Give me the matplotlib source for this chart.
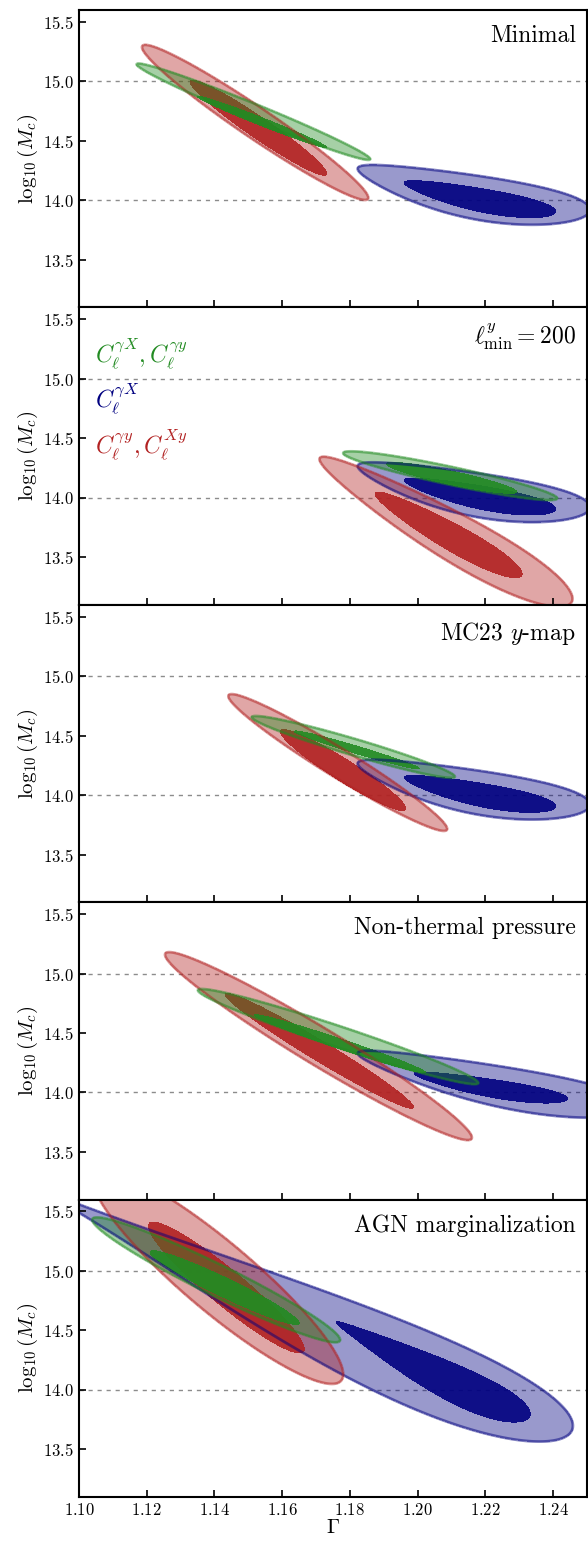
import numpy as np
import matplotlib.pyplot as plt

plt.rcParams['font.family'] = 'serif'
plt.rcParams['font.serif'] = ['cmr10']
plt.rcParams['mathtext.fontset'] = 'cm'
plt.rcParams['axes.formatter.use_mathtext'] = True
plt.rcParams['axes.unicode_minus'] = False

# 1) data: one row per panel
panel_labels = ["Minimal", r"$\ell^{y}_{\rm min} = 200$", r"MC23 $y$-map",
                "Non-thermal pressure", "AGN marginalization"]

# contour rows: Gamma centre, log10 Mc centre, Gamma half-width, log10 Mc half-height, correlation, flare
green_68 = [
    [1.154, 14.66, 0.0190, 0.215, -0.987, 0.0],
    [1.210, 14.167, 0.0192, 0.130, -0.900, 0.0],
    [1.182, 14.38, 0.0185, 0.160, -0.980, 0.0],
    [1.177, 14.41, 0.0253, 0.245, -0.985, 0.0],
    [1.143, 14.86, 0.0220, 0.310, -0.960, 0.0],
]
green_95 = [
    [1.1515, 14.745, 0.0345, 0.405, -0.984, 0.0],
    [1.2096, 14.185, 0.0316, 0.205, -0.927, 0.0],
    [1.181, 14.405, 0.0300, 0.260, -0.961, 0.0],
    [1.1765, 14.47, 0.0414, 0.400, -0.973, 0.0],
    [1.1405, 14.925, 0.0366, 0.525, -0.961, 0.0],
]
blue_68 = [
    [1.2177, 14.015, 0.0223, 0.155, -0.78, 0.3],
    [1.2177, 14.015, 0.0223, 0.155, -0.78, 0.3],
    [1.2177, 14.015, 0.0223, 0.155, -0.78, 0.3],
    [1.221, 14.045, 0.0226, 0.130, -0.82, 0.3],
    [1.204, 14.16, 0.0285, 0.420, -0.930, 0.6],
]
blue_95 = [
    [1.2147, 14.06, 0.0341, 0.250, -0.690, 0.4],
    [1.2147, 14.06, 0.0341, 0.250, -0.690, 0.4],
    [1.2147, 14.06, 0.0341, 0.250, -0.690, 0.4],
    [1.222, 14.08, 0.0410, 0.280, -0.800, 0.4],
    [1.166, 14.64, 0.0780, 1.050, -0.962, 0.9],
]
red_68 = [
    [1.153, 14.61, 0.0202, 0.400, -0.965, 0.0],
    [1.209, 13.69, 0.0217, 0.360, -0.937, 0.2],
    [1.178, 14.21, 0.0185, 0.340, -0.950, 0.0],
    [1.171, 14.35, 0.0278, 0.483, -0.980, 0.0],
    [1.1435, 14.86, 0.0230, 0.550, -0.940, 0.0],
]
red_95 = [
    [1.152, 14.655, 0.0334, 0.652, -0.971, 0.0],
    [1.208, 13.72, 0.0373, 0.630, -0.934, 0.3],
    [1.1764, 14.274, 0.0323, 0.575, -0.970, 0.0],
    [1.1707, 14.39, 0.0453, 0.790, -0.973, 0.0],
    [1.141, 14.95, 0.0370, 0.900, -0.910, 0.0],
]

legend_labels = [r"$C_\ell^{\gamma X}, C_\ell^{\gamma y}$", r"$C_\ell^{\gamma X}$",
                 r"$C_\ell^{\gamma y}, C_\ell^{X y}$"]
legend_colors = ["forestgreen", "navy", "firebrick"]
legend_ypos = [0.813, 0.662, 0.51]

# 2) style
series = [
    ("navy", blue_68, blue_95),
    ("firebrick", red_68, red_95),
    ("forestgreen", green_68, green_95),
]
xticks = [1.10, 1.12, 1.14, 1.16, 1.18, 1.20, 1.22, 1.24]
yticks = [13.5, 14.0, 14.5, 15.0, 15.5]

gx, gy = np.meshgrid(np.linspace(1.06, 1.29, 700), np.linspace(12.6, 16.4, 700))


def region(row):
    cx, cy, hx, hy, rho, flare = row
    ex = (gx - cx) / hx
    ey = (gy - cy) / hy
    a = (ex - ey) / np.sqrt(2)
    b = (ex + ey) / np.sqrt(2)
    scale = np.clip(1 + flare * a / np.sqrt(1 - rho), 0.05, None)
    b = b / scale
    return a ** 2 / (1 - rho) + b ** 2 / (1 + rho)


fig, axes = plt.subplots(5, 1, figsize=(5.88, 15.41), dpi=100, sharex=True)
fig.subplots_adjust(left=0.1344, right=0.9983, top=0.9935, bottom=0.0286, hspace=0)

for i, ax in enumerate(axes):
    for yl in [14.0, 15.0]:
        ax.axhline(yl, color='gray', lw=1.0, dashes=(3, 3.5), alpha=0.9, zorder=0)

    # fills first (blue, red, green), outlines on top
    for color, inner, outer in series:
        ax.contourf(gx, gy, region(outer[i]), levels=[0, 1], colors=[color], alpha=0.4, zorder=1)
        ax.contourf(gx, gy, region(inner[i]), levels=[0, 1], colors=[color], alpha=0.9, zorder=1)
    for color, inner, outer in series:
        ax.contour(gx, gy, region(outer[i]), levels=[1], colors=[color], alpha=0.5,
                   linewidths=2.0, zorder=2)

    ax.text(0.978, 0.95, panel_labels[i], transform=ax.transAxes, ha='right', va='top', fontsize=17)

    ax.set_xlim(1.10, 1.25)
    ax.set_ylim(13.1, 15.6)
    ax.set_xticks(xticks)
    ax.set_yticks(yticks)
    ax.set_ylabel(r"$\log_{10}(M_c)$", fontsize=15, labelpad=2)
    ax.tick_params(direction='in', length=5, width=1.2, labelsize=12, top=False, right=False)
    for sp in ax.spines.values():
        sp.set_linewidth(1.5)

ax2 = axes[1]
for lab, col, yy in zip(legend_labels, legend_colors, legend_ypos):
    ax2.text(0.031, yy, lab, color=col, transform=ax2.transAxes, fontsize=17)

axes[-1].set_xlabel(r"$\Gamma$", fontsize=15, labelpad=1)

plt.savefig('out.png', dpi=100)
